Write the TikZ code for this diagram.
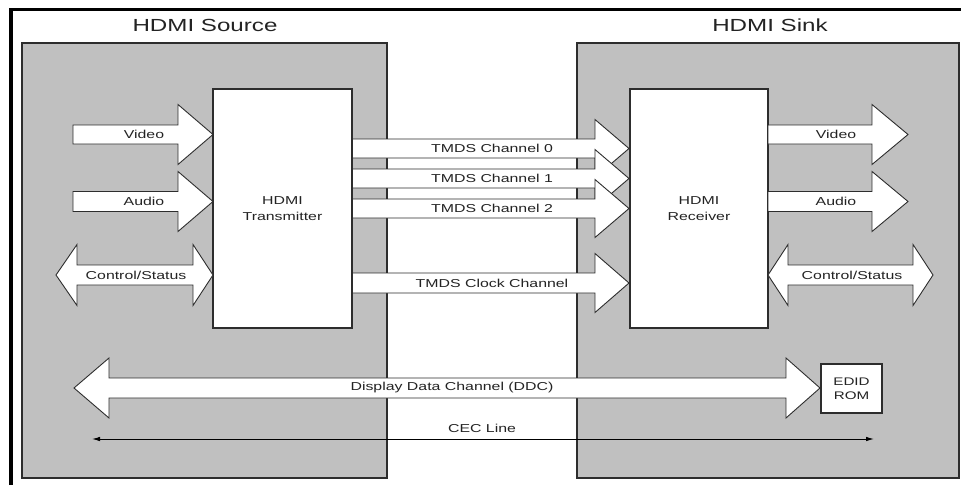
\documentclass[tikz,border=0pt]{standalone}
\usepackage{fontspec}
\setmainfont[FakeStretch=1.38]{Liberation Sans}
\usetikzlibrary{arrows.meta}
\definecolor{boxgray}{RGB}{192,192,192}
\definecolor{edgec}{RGB}{45,45,45}
\definecolor{txtc}{RGB}{35,35,35}
% right block arrow: x start, head base, tip, y centre, shaft half, head half
\newcommand\rarr[6]{\draw[blk] (#1,#4-#5) -- (#2,#4-#5) -- (#2,#4-#6) -- (#3,#4) -- (#2,#4+#6) -- (#2,#4+#5) -- (#1,#4+#5) -- cycle;}
% double block arrow: left tip, left base, right base, right tip, y centre, shaft half, head half
\newcommand\darr[7]{\draw[blk] (#1,#5) -- (#2,#5-#7) -- (#2,#5-#6) -- (#3,#5-#6) -- (#3,#5-#7) -- (#4,#5) -- (#3,#5+#7) -- (#3,#5+#6) -- (#2,#5+#6) -- (#2,#5+#7) -- cycle;}
\begin{document}
\begin{tikzpicture}[x=1pt,y=-1pt,
  graybox/.style={draw=edgec, line width=1.3pt, fill=boxgray, inner sep=0pt, outer sep=0pt},
  whitebox/.style={draw=edgec, line width=1.2pt, fill=white, inner sep=0pt, outer sep=0pt, align=center, text=txtc, font=\fontsize{11.5}{16}\selectfont},
  blk/.style={draw=edgec, line width=0.9pt, fill=white, line join=miter},
  lbl/.style={text=txtc, font=\fontsize{11.5}{14}\selectfont, inner sep=0pt},
  title/.style={text=txtc, font=\fontsize{17.5}{20}\selectfont, inner sep=0pt},
  frame/.style={line width=3.5pt, black}]
\useasboundingbox (0,0) rectangle (961,485);
\fill[white] (0,0) rectangle (961,485);
% frame
\draw[frame] (11,485) -- (11,9.5) -- (961,9.5);
% titles
\node[title] (tsrc) at (205,25) {HDMI Source};
\node[title] (tsnk) at (770,25) {HDMI Sink};
% gray boxes
\node[graybox, minimum width=365pt, minimum height=435pt] (src) at (204.5,260.5) {};
\node[graybox, minimum width=382pt, minimum height=435pt] (snk) at (768,260.5) {};
% TMDS channels
\rarr{352}{595}{629}{148.5}{9.5}{29}
\rarr{352}{595}{629}{178.5}{9.5}{29}
\rarr{352}{595}{629}{208.5}{9.5}{29}
\rarr{352}{595}{629}{283}{10}{29.5}
\node[lbl] (ch0) at (492,148.5) {TMDS Channel 0};
\node[lbl] (ch1) at (492,178.5) {TMDS Channel 1};
\node[lbl] (ch2) at (492,208.5) {TMDS Channel 2};
\node[lbl] (clk) at (492,283) {TMDS Clock Channel};
% transmitter / receiver
\node[whitebox, minimum width=139pt, minimum height=239pt] (tx) at (282.5,208.5) {HDMI\\Transmitter};
\node[whitebox, minimum width=138pt, minimum height=239pt] (rx) at (699,208.5) {HDMI\\Receiver};
% source side arrows
\rarr{73}{178}{213}{134.5}{9.5}{30}
\node[lbl] (sv) at (144,134.5) {Video};
\rarr{73}{178}{213}{201.5}{10}{30}
\node[lbl] (sa) at (144,201.5) {Audio};
\darr{56}{77}{193}{213}{275}{10}{30.5}
\node[lbl] (sc) at (136,275) {Control/Status};
% sink side arrows
\rarr{768}{872}{908}{134.5}{9.5}{30}
\node[lbl] (kv) at (836,134.5) {Video};
\rarr{768}{872}{908}{201.5}{10}{30}
\node[lbl] (ka) at (836,201.5) {Audio};
\darr{768}{788}{913}{933}{275}{10}{30.5}
\node[lbl] (kc) at (852,275) {Control/Status};
% DDC
\darr{74}{109}{786}{820}{388}{10}{30}
\node[lbl] (ddc) at (452,388) {Display Data Channel (DDC)};
\node[whitebox, minimum width=61pt, minimum height=49pt, font=\fontsize{11}{14}\selectfont] (edid) at (851.5,388.5) {EDID\\ROM};
% CEC line
\coordinate (cecL) at (92,439);
\coordinate (cecR) at (874,439);
\draw[black, line width=0.9pt, {Latex[length=8pt,width=4.5pt]}-{Latex[length=8pt,width=4.5pt]}] (cecL) -- (cecR);
\node[lbl] (cec) at (482,428) {CEC Line};
\end{tikzpicture}
\end{document}
